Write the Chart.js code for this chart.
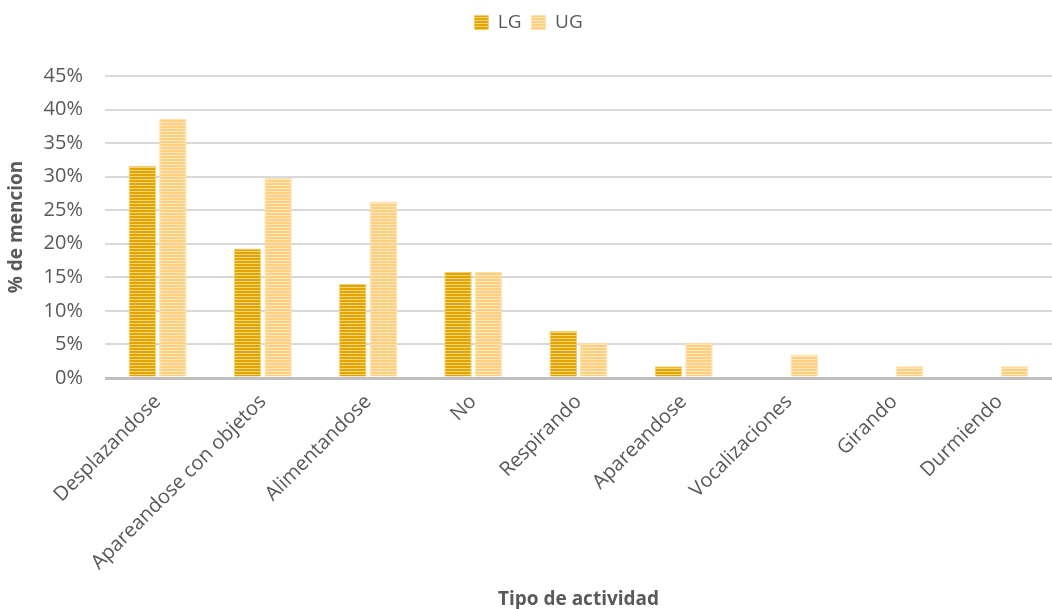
<!DOCTYPE html>
<html>
<head>
<meta charset="utf-8">
<script src="https://cdn.jsdelivr.net/npm/chart.js@4"></script>
<style>
  html, body { margin: 0; padding: 0; background: #fff; }
  #wrap { width: 1052px; height: 609px; }
</style>
</head>
<body>
<div id="wrap"><canvas id="barras"></canvas></div>
<script>
// tipos de actividad y % de mencion por grupo
const categorias = ['Desplazandose', 'Apareandose con objetos', 'Alimentandose', 'No',
  'Respirando', 'Apareandose', 'Vocalizaciones', 'Girando', 'Durmiendo'];
const valoresLG = [31.6, 19.3, 14.0, 15.8, 7.0, 1.75, 0, 0, 0];
const valoresUG = [38.6, 29.8, 26.3, 15.8, 5.26, 5.26, 3.5, 1.75, 1.75];
const ticksY = [0, 5, 10, 15, 20, 25, 30, 35, 40, 45];

// relleno rayado horizontal
function rayas(fuerte, suave) {
  const c = document.createElement('canvas');
  c.width = 4; c.height = 3;
  const g = c.getContext('2d');
  g.fillStyle = suave; g.fillRect(0, 0, 4, 3);
  g.fillStyle = fuerte; g.fillRect(0, 0, 4, 2);
  return g.createPattern(c, 'repeat');
}

// deja mas aire debajo de la leyenda
const espacioLeyenda = {
  id: 'espacioLeyenda',
  beforeInit(chart) {
    const fitOrig = chart.legend.fit;
    chart.legend.fit = function () {
      fitOrig.call(this);
      this.height += 34;
    };
  }
};

const fuente = "'Open Sans', sans-serif";
const gris = '#595959';

const ctx = document.getElementById('barras').getContext('2d');
const grafico = new Chart(ctx, {
  type: 'bar',
  data: {
    labels: categorias,
    datasets: [{
      label: 'LG',
      data: valoresLG,
      backgroundColor: rayas('#e2a500', '#f3d57a'),
      borderColor: '#efcf70',
      borderWidth: 1,
      categoryPercentage: 0.58,
      barPercentage: 0.9
    }, {
      label: 'UG',
      data: valoresUG,
      backgroundColor: rayas('#ffcf80', '#ffe7bf'),
      borderColor: '#ffe0b0',
      borderWidth: 1,
      categoryPercentage: 0.58,
      barPercentage: 0.9
    }]
  },
  plugins: [espacioLeyenda],
  options: {
    responsive: true,
    maintainAspectRatio: false,
    animation: false,
    layout: { padding: { left: 5, right: 0, top: 3, bottom: 0 } },
    plugins: {
      tooltip: { enabled: false },
      legend: {
        position: 'top',
        labels: {
          boxWidth: 14, boxHeight: 14, padding: 10,
          color: gris,
          font: { family: fuente, size: 19 }
        }
      }
    },
    scales: {
      x: {
        grid: { display: false },
        border: { display: false },
        ticks: {
          color: gris,
          font: { family: fuente, size: 20 },
          maxRotation: 45, minRotation: 45,
          padding: 4
        },
        title: {
          display: true,
          text: 'Tipo de actividad',
          color: gris,
          font: { family: fuente, size: 19, weight: 'bold' },
          padding: { top: 0, bottom: -2 }
        },
        afterFit: s => { s.height = 231; }
      },
      y: {
        min: 0, max: 45,
        afterBuildTicks: s => { s.ticks = ticksY.map(v => ({ value: v })); },
        border: { display: false },
        grid: {
          drawTicks: false,
          color: c => c.tick && c.tick.value === 0 ? '#bfbfbf' : '#d9d9d9',
          lineWidth: c => c.tick && c.tick.value === 0 ? 3 : 2
        },
        ticks: {
          color: gris,
          font: { family: fuente, size: 20 },
          padding: 22,
          callback: v => v + '%'
        },
        title: {
          display: true,
          text: '% de mencion',
          color: gris,
          font: { family: fuente, size: 19, weight: 'bold' },
          padding: { top: 0, bottom: 0 }
        },
        afterFit: s => { s.width = 100; }
      }
    }
  }
});
</script>
</body>
</html>
